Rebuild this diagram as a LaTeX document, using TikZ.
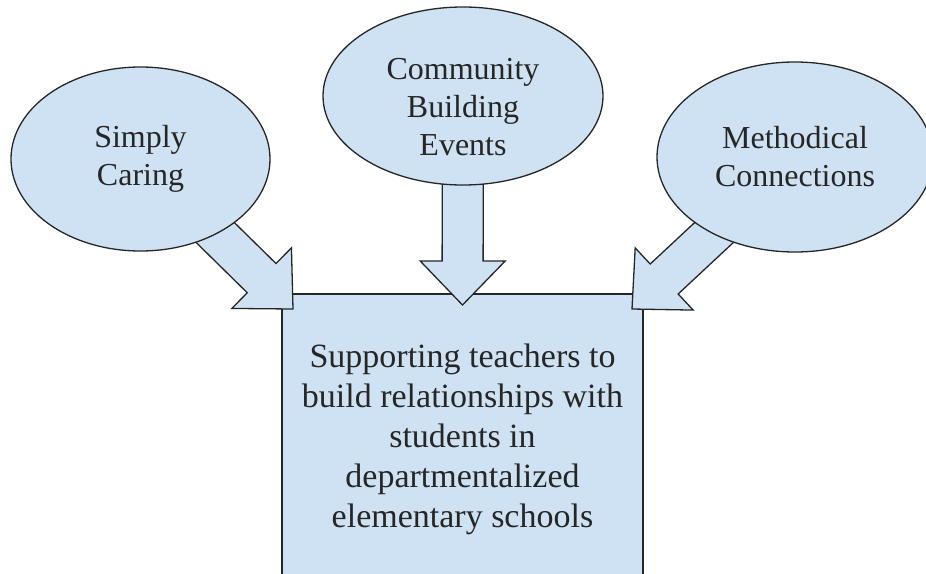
\documentclass[tikz,border=0pt]{standalone}
\usepackage{fontspec}
\setmainfont{Liberation Serif}
\newfontfamily\labelfont{Liberation Serif}
\usepackage{xcolor}
\usetikzlibrary{calc,shapes.geometric}

\definecolor{paleblue}{HTML}{CFE2F3}
\definecolor{inkgray}{HTML}{262626}

\pgfdeclarelayer{boxes}
\pgfdeclarelayer{arrows}
\pgfsetlayers{boxes,arrows,main}

% fat block arrow: #1 is where the shaft starts, #2 is the tip
\newcommand{\blockarrow}[2]{%
  \path ($(#2)!44pt!(#1)$) coordinate (headbase);
  \draw[fatarrow] (#2) -- ($(headbase)!42.5pt!90:(#2)$)
    -- ($(headbase)!20.5pt!90:(#2)$) -- ($(#1)!20.5pt!90:(#2)$)
    -- ($(#1)!20.5pt!-90:(#2)$) -- ($(headbase)!20.5pt!-90:(#2)$)
    -- ($(headbase)!42.5pt!-90:(#2)$) -- cycle;}

\begin{document}
\begin{tikzpicture}[x=1pt, y=-1pt,
  bubble/.style={ellipse, draw=inkgray, line width=1.3pt, fill=paleblue,
    align=center, text=inkgray, font=\labelfont\fontsize{32}{38}\selectfont},
  goal/.style={rectangle, draw=inkgray, line width=1.3pt, fill=paleblue,
    outer sep=0pt, align=center, text=inkgray, font=\labelfont\fontsize{34}{40}\selectfont},
  fatarrow/.style={draw=inkgray, line width=1.3pt, fill=paleblue, line join=miter}
]
  \useasboundingbox (0,0) rectangle (926,573);
  \clip (0,0) rectangle (926,573);

  \begin{pgfonlayer}{boxes}
    \node[goal, minimum width=361pt, minimum height=291pt] (goal) at (462.5,439.5)
      {Supporting teachers to\\build relationships with\\students in\\departmentalized\\elementary schools};
  \end{pgfonlayer}

  % the three ways in
  \node[bubble, minimum width=259pt, minimum height=184pt] (caring) at (140.5,159) {Simply\\Caring};
  \node[bubble, minimum width=280pt, minimum height=178pt] (events) at (463,96) {};
  \node[align=center, text=inkgray, font=\labelfont\fontsize{32}{38}\selectfont] (eventstext)
    at ([yshift=-11pt]events.center) {Community\\Building\\Events};
  \node[bubble, minimum width=276pt, minimum height=190pt] (methods) at (795,157) {Methodical\\Connections};

  \coordinate (tipA) at ([shift={(11,15)}]goal.north west);
  \coordinate (tipB) at ([shift={(0,11)}]goal.north);
  \coordinate (tipC) at ([shift={(-11,15)}]goal.north east);

  \begin{pgfonlayer}{arrows}
    \blockarrow{caring.center}{tipA}
    \blockarrow{events.center}{tipB}
    \blockarrow{methods.center}{tipC}
  \end{pgfonlayer}
\end{tikzpicture}
\end{document}
